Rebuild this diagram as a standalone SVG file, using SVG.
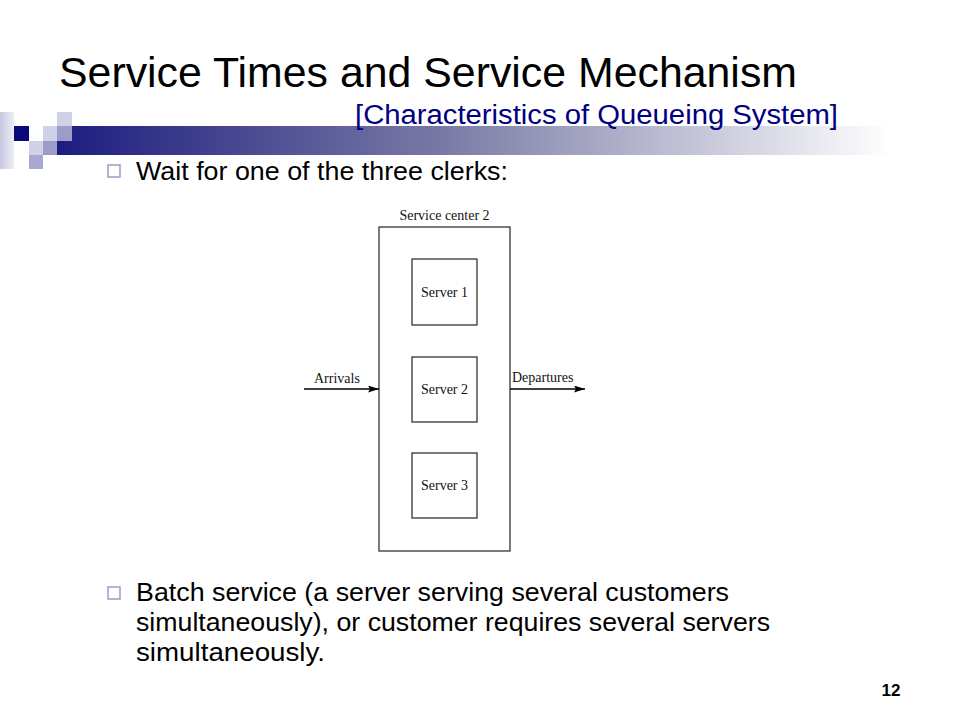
<svg xmlns="http://www.w3.org/2000/svg" width="960" height="720" viewBox="0 0 960 720">
<defs>
<linearGradient id="bar" x1="0" y1="0" x2="1" y2="0">
<stop offset="0" stop-color="#1c1c80"/>
<stop offset="0.45" stop-color="#7a7aa6"/>
<stop offset="0.97" stop-color="#ffffff"/>
</linearGradient>
<linearGradient id="strip" x1="0" y1="0" x2="1" y2="0">
<stop offset="0" stop-color="#c8c8e2"/>
<stop offset="1" stop-color="#eeeef6"/>
</linearGradient>
<marker id="arr" viewBox="0 0 11 7" refX="11" refY="3.5" markerWidth="11" markerHeight="7" markerUnits="userSpaceOnUse" orient="auto">
<path d="M0,0 L11,3.5 L0,7 L2,3.5 Z" fill="#000"/>
</marker>
</defs>
<style>
.title{font-family:"Liberation Sans",Arial,sans-serif;fill:#000}
.sub{font-family:"Liberation Sans",Arial,sans-serif;fill:#000080}
.body{font-family:"Liberation Sans",Arial,sans-serif;font-size:26px;fill:#000}
.bul{fill:#fff;stroke:#9a9ac8;stroke-width:1.5}
.dg{font-family:"Liberation Serif","Times New Roman",serif;font-size:14px;fill:#111}
.box{fill:#fff;stroke:#333;stroke-width:1.3}
.conn{stroke:#000;stroke-width:1.4;fill:none}
</style>
<rect width="960" height="720" fill="#fff"/>
<g id="decoration">
<rect x="57" y="126" width="860" height="29" fill="url(#bar)"/>
<rect x="0" y="112" width="14" height="57" fill="url(#strip)"/>
<rect x="14" y="126" width="15" height="15" fill="#0a0a7a"/>
<rect x="29" y="126" width="14" height="15" fill="#ffffff"/>
<rect x="43" y="126" width="14" height="15" fill="#d0d0e6"/>
<rect x="57" y="126" width="15" height="15" fill="#9c9cc8"/>
<rect x="57" y="112" width="15" height="14" fill="#d0d0e6"/>
<rect x="29" y="141" width="14" height="14" fill="#d0d0e6"/>
<rect x="43" y="141" width="14" height="14" fill="#9c9cc8"/>
<rect x="29" y="155" width="14" height="14" fill="#a8a8d0"/>
</g>
<g id="title">
<text class="title" x="59" y="87" font-size="42" textLength="738" lengthAdjust="spacingAndGlyphs">Service Times and Service Mechanism</text>
<text class="sub" x="355" y="124" font-size="27" textLength="483" lengthAdjust="spacingAndGlyphs">[Characteristics of Queueing System]</text>
</g>
<g id="bullet1">
<rect class="bul" x="108" y="165" width="12" height="12"/>
<text class="body" x="136" y="180" textLength="372" lengthAdjust="spacingAndGlyphs">Wait for one of the three clerks:</text>
</g>
<g id="service-center">
<rect class="box" x="379" y="227" width="131" height="324"/>
<text class="dg" x="444.5" y="220" text-anchor="middle">Service center 2</text>
</g>
<g id="server1">
<rect class="box" x="412" y="259" width="65" height="66"/>
<text class="dg" x="444.5" y="297" text-anchor="middle">Server 1</text>
</g>
<g id="server2">
<rect class="box" x="412" y="357" width="65" height="65"/>
<text class="dg" x="444.5" y="394" text-anchor="middle">Server 2</text>
</g>
<g id="server3">
<rect class="box" x="412" y="453" width="65" height="65"/>
<text class="dg" x="444.5" y="490" text-anchor="middle">Server 3</text>
</g>
<g id="connectors">
<line class="conn" x1="304" y1="389" x2="379" y2="389" marker-end="url(#arr)"/>
<line class="conn" x1="510" y1="389" x2="585" y2="389" marker-end="url(#arr)"/>
<text class="dg" x="314" y="383">Arrivals</text>
<text class="dg" x="512" y="382">Departures</text>
</g>
<g id="bullet2">
<rect class="bul" x="108" y="587" width="12" height="12"/>
<text class="body" x="136" y="601" textLength="593" lengthAdjust="spacingAndGlyphs">Batch service (a server serving several customers</text>
<text class="body" x="136" y="631" textLength="634" lengthAdjust="spacingAndGlyphs">simultaneously), or customer requires several servers</text>
<text class="body" x="136" y="661" textLength="189" lengthAdjust="spacingAndGlyphs">simultaneously.</text>
</g>
<g id="page">
<text x="891" y="696" text-anchor="middle" font-family="'Liberation Sans',Arial,sans-serif" font-weight="bold" font-size="17" fill="#000">12</text>
</g>
</svg>
